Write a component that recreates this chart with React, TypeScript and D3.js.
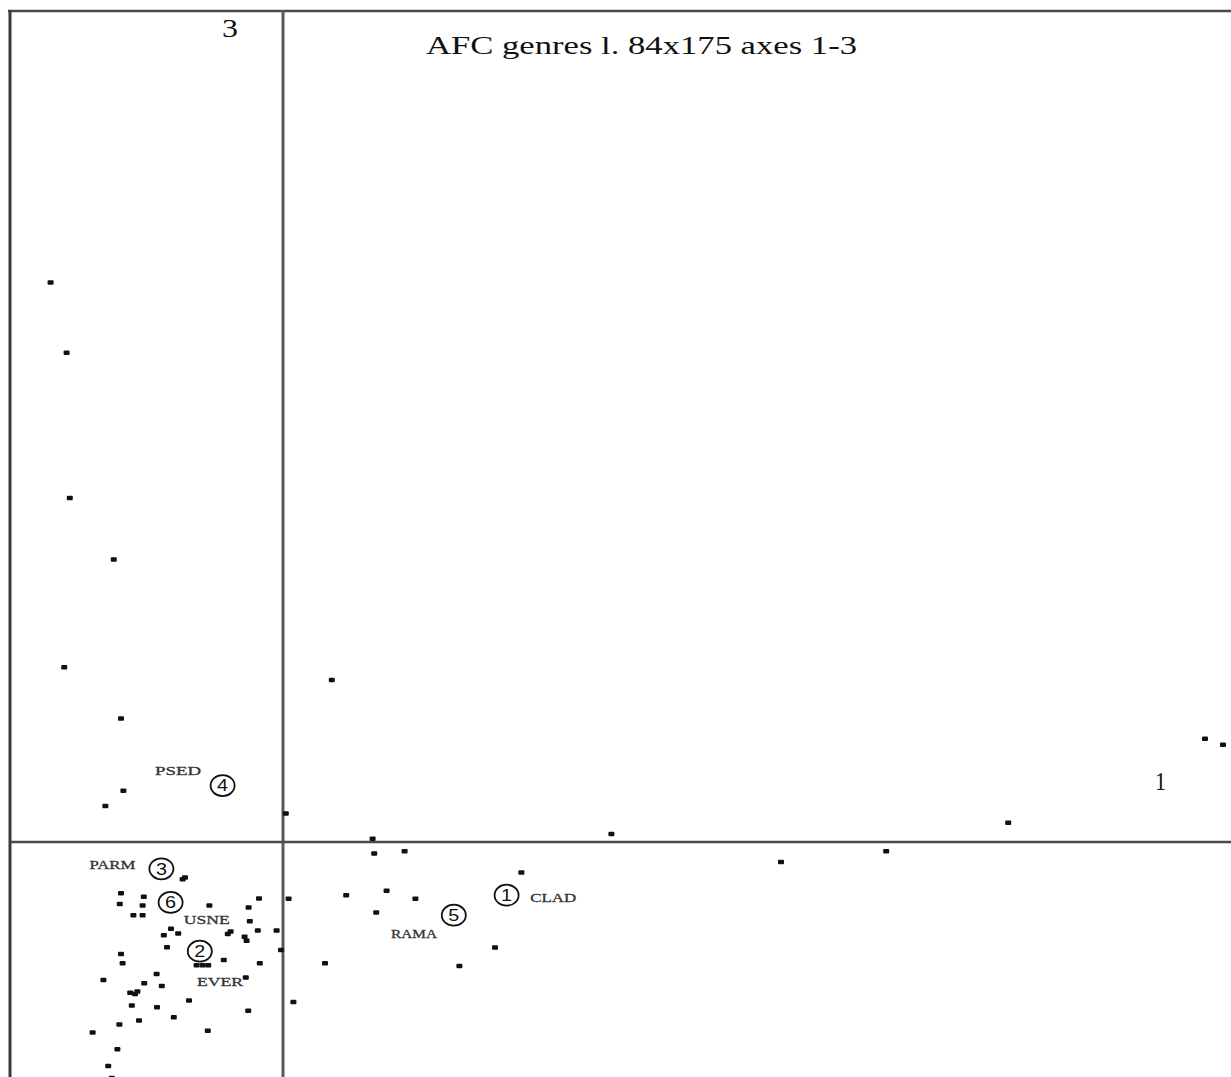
import * as React from "react";
import * as d3 from "d3";

type Pt = [number, number];

// factor scores: [axis 1, axis 3]
const upperPoints: Pt[] = [
    [-0.581, 1.399], [-0.541, 1.223], [-0.533, 0.860], [-0.423, 0.706],
    [-0.547, 0.437], [-0.405, 0.309], [-0.399, 0.128], [-0.444, 0.090],
    [0.122, 0.405], [0.007, 0.071]
];

const rightPoints: Pt[] = [
    [2.305, 0.258], [2.350, 0.243], [1.813, 0.048], [0.821, 0.020],
    [1.245, -0.050], [1.508, -0.023]
];

const centrePoints: Pt[] = [
    [0.224, 0.008], [0.228, -0.029], [0.304, -0.023], [0.596, -0.076],
    [0.158, -0.133], [0.259, -0.122], [0.331, -0.142], [0.233, -0.176],
    [0.014, -0.142], [0.530, -0.264], [0.441, -0.310], [0.105, -0.303]
];

const clusterPoints: Pt[] = [
    [-0.251, -0.093], [-0.245, -0.089], [-0.405, -0.128], [-0.348, -0.137],
    [-0.408, -0.155], [-0.351, -0.159], [-0.374, -0.183], [-0.351, -0.183],
    [-0.184, -0.159], [-0.060, -0.141], [-0.086, -0.164], [-0.083, -0.198],
    [-0.280, -0.217], [-0.298, -0.233], [-0.262, -0.229], [-0.138, -0.230],
    [-0.131, -0.224], [-0.096, -0.237], [-0.091, -0.247], [-0.063, -0.221],
    [-0.016, -0.221], [-0.005, -0.270], [-0.290, -0.263], [-0.405, -0.280],
    [-0.401, -0.303], [-0.216, -0.308], [-0.201, -0.308], [-0.187, -0.308],
    [-0.148, -0.295], [-0.058, -0.303], [-0.449, -0.345], [-0.093, -0.339],
    [-0.316, -0.330], [-0.347, -0.353], [-0.382, -0.377], [-0.364, -0.374],
    [-0.370, -0.380], [-0.303, -0.360], [0.026, -0.400], [-0.235, -0.396],
    [-0.378, -0.409], [-0.315, -0.413], [-0.087, -0.422], [-0.273, -0.438],
    [-0.360, -0.446], [-0.409, -0.456], [-0.476, -0.476], [-0.188, -0.472],
    [-0.414, -0.518], [-0.437, -0.560], [-0.428, -0.590]
];

// genres (numbered in alphabetical order)
const genreNames = ["CLAD", "EVER", "PARM", "PSED", "RAMA", "USNE"];
const genreNumbers = ["1", "2", "3", "4", "5", "6"];
const genreCircleAt: Pt[] = [
    [0.559, -0.133], [-0.208, -0.273], [-0.304, -0.067],
    [-0.151, 0.141], [0.427, -0.183], [-0.281, -0.151]
];
const genreTextAt: Pt[] = [
    [0.618, -0.137], [-0.215, -0.348], [-0.484, -0.055],
    [-0.320, 0.180], [0.270, -0.227], [-0.248, -0.193]
];

const title = "AFC genres l. 84x175 axes 1-3";
const xAxisName = "1";
const yAxisName = "3";

class App extends React.Component {
    _rootNode: SVGSVGElement | null = null;

    componentDidMount() {
        this.drawChart();
    }

    drawChart() {
        const width = 1231;
        const height = 1077;
        const serif = "'Liberation Serif', 'Times New Roman', serif";
        const sans = "'Liberation Sans', Arial, sans-serif";

        const xScale = d3.scaleLinear().domain([-0.68, 2.37]).range([11, 1231]);
        const yScale = d3.scaleLinear().domain([-0.5875, 2.08]).range([1077, 10]);

        const svg = d3.select(this._rootNode)
            .attr("width", width)
            .attr("height", height);
        svg.selectAll("*").remove();

        svg.append("rect")
            .attr("width", width)
            .attr("height", height)
            .attr("fill", "#fff");

        // frame (top and left) and the two axes through the origin
        const lineColor = "#4a4a4a";
        svg.append("line")
            .attr("x1", 8).attr("x2", width)
            .attr("y1", 11).attr("y2", 11)
            .attr("stroke", lineColor).attr("stroke-width", 2.5);
        svg.append("line")
            .attr("x1", 10).attr("x2", 10)
            .attr("y1", 10).attr("y2", height)
            .attr("stroke", "#3a3a3a").attr("stroke-width", 3);
        svg.append("line")
            .attr("x1", xScale(0)).attr("x2", xScale(0))
            .attr("y1", 10).attr("y2", height)
            .attr("stroke", "#5a5a5a").attr("stroke-width", 3);
        svg.append("line")
            .attr("x1", 10).attr("x2", width)
            .attr("y1", yScale(0)).attr("y2", yScale(0))
            .attr("stroke", lineColor).attr("stroke-width", 2.5);

        const allPoints = upperPoints.concat(rightPoints, centrePoints, clusterPoints);
        svg.append("g")
            .selectAll("rect.dot")
            .data(allPoints)
            .enter()
            .append("rect")
            .classed("dot", true)
            .attr("x", d => xScale(d[0]) - 3)
            .attr("y", d => yScale(d[1]) - 2.25)
            .attr("width", 6)
            .attr("height", 4.5)
            .attr("rx", 1)
            .attr("fill", "#111");

        // circled genre numbers
        const genres = genreNames.map((name, i) => ({
            name: name,
            num: genreNumbers[i],
            circle: genreCircleAt[i],
            text: genreTextAt[i]
        }));

        const marks = svg.append("g");
        marks.selectAll("ellipse")
            .data(genres)
            .enter()
            .append("ellipse")
            .attr("cx", d => xScale(d.circle[0]))
            .attr("cy", d => yScale(d.circle[1]))
            .attr("rx", 12)
            .attr("ry", 10.5)
            .attr("fill", "none")
            .attr("stroke", "#111")
            .attr("stroke-width", 1.8);
        marks.selectAll("text.num")
            .data(genres)
            .enter()
            .append("text")
            .classed("num", true)
            .attr("x", d => xScale(d.circle[0]))
            .attr("y", d => yScale(d.circle[1]))
            .attr("dy", "0.36em")
            .attr("text-anchor", "middle")
            .attr("textLength", 11)
            .attr("lengthAdjust", "spacingAndGlyphs")
            .style("font-family", sans)
            .style("font-size", "16px")
            .attr("fill", "#111")
            .text(d => d.num);
        marks.selectAll("text.name")
            .data(genres)
            .enter()
            .append("text")
            .classed("name", true)
            .attr("x", d => xScale(d.text[0]))
            .attr("y", d => yScale(d.text[1]))
            .attr("dy", "0.35em")
            .attr("textLength", d => d.name.length * 11.5)
            .attr("lengthAdjust", "spacingAndGlyphs")
            .style("font-family", serif)
            .style("font-size", "13.5px")
            .attr("fill", "#333")
            .attr("stroke", "#333")
            .attr("stroke-width", 0.3)
            .text(d => d.name);

        // title and axis names
        svg.append("text")
            .attr("x", 426)
            .attr("y", 54)
            .attr("textLength", 431)
            .attr("lengthAdjust", "spacingAndGlyphs")
            .style("font-family", serif)
            .style("font-size", "25.5px")
            .attr("fill", "#111")
            .text(title);
        svg.append("text")
            .attr("x", 222)
            .attr("y", 37)
            .attr("textLength", 16)
            .attr("lengthAdjust", "spacingAndGlyphs")
            .style("font-family", serif)
            .style("font-size", "25px")
            .attr("fill", "#111")
            .text(yAxisName);
        svg.append("text")
            .attr("x", 1155)
            .attr("y", 790)
            .attr("textLength", 11)
            .attr("lengthAdjust", "spacingAndGlyphs")
            .style("font-family", serif)
            .style("font-size", "25px")
            .attr("fill", "#111")
            .text(xAxisName);
    }

    shouldComponentUpdate() {
        return false;
    }

    render() {
        return <svg ref={node => { this._rootNode = node; }}
                    style={{position: "absolute", left: 0, top: 0, display: "block"}}/>;
    }
}

export default App;
